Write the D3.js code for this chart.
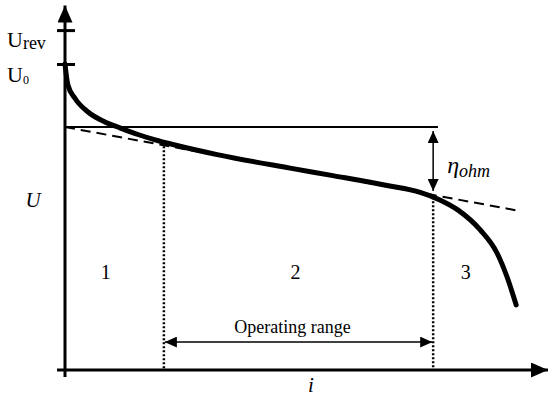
<!DOCTYPE html>
<html>
<head>
<meta charset="utf-8">
<script src="https://cdn.jsdelivr.net/npm/d3@7"></script>
<style>
	body { margin: 0; background: #fff; }
	svg { display: block; font-family: "Liberation Serif", "Times New Roman", serif; }
</style>
</head>
<body>
<svg id="chart"></svg>
<script>
// Polarisation curve (i and U in arbitrary units)
const curveI = [ 0, 0.06, 0.21, 0.48, 0.83, 1.1, 1.52, 1.88, 2.29, 3.17, 4.69, 5.58, 6.71, 7.4, 7.81, 8.19, 8.65, 9.0, 9.21, 9.4 ];
const curveU = [ 1.02, 0.95, 0.905, 0.86, 0.827, 0.81, 0.785, 0.767, 0.75, 0.718, 0.673, 0.648, 0.615, 0.592, 0.567, 0.533, 0.467, 0.39, 0.31, 0.217 ];

// ohmic (linear) extrapolation
const ohmI = [ 0, 9.48 ];
const ohmU = [ 0.81, 0.53 ];

const uLevels = { rev: 1.133, zero: 1.02, ref: 0.81 };
const rangeBounds = [ 2.06, 7.67 ];
const regionLabels = [ '1', '2', '3' ];
const regionI = [ 0.85, 4.8, 8.35 ];

const width = 548;
const height = 399;

const x = d3.scaleLinear().domain( [ 0, 10 ] ).range( [ 65, 545 ] );
const y = d3.scaleLinear().domain( [ 0, 1.21 ] ).range( [ 370, 7 ] );

const svg = d3.select( '#chart' )
	.attr( 'width', width )
	.attr( 'height', height );

const defs = svg.append( 'defs' );
function marker( id, w, h ) {
	defs.append( 'marker' )
		.attr( 'id', id )
		.attr( 'viewBox', `0 0 ${ w } ${ h }` )
		.attr( 'refX', w )
		.attr( 'refY', h / 2 )
		.attr( 'markerWidth', w )
		.attr( 'markerHeight', h )
		.attr( 'markerUnits', 'userSpaceOnUse' )
		.attr( 'orient', 'auto-start-reverse' )
		.append( 'path' )
		.attr( 'd', `M0,0L${ w },${ h / 2 }L0,${ h }Z` )
		.attr( 'fill', '#000' );
}
marker( 'big', 17, 15 );
marker( 'small', 12, 11 );

// axes
svg.append( 'line' )
	.attr( 'x1', x( 0 ) ).attr( 'x2', x( 0 ) )
	.attr( 'y1', y( 0 ) + 7 ).attr( 'y2', y( 1.215 ) )
	.attr( 'stroke', '#000' ).attr( 'stroke-width', 3 )
	.attr( 'marker-end', 'url(#big)' );

svg.append( 'line' )
	.attr( 'x1', x( 0 ) - 8 ).attr( 'x2', 548 )
	.attr( 'y1', y( 0 ) ).attr( 'y2', y( 0 ) )
	.attr( 'stroke', '#000' ).attr( 'stroke-width', 3 )
	.attr( 'marker-end', 'url(#big)' );

// ticks at U0 and Urev
const yAxis = d3.axisLeft( y )
	.tickValues( [ uLevels.rev, uLevels.zero ] )
	.tickSize( 8 )
	.tickFormat( '' );
const yAxisG = svg.append( 'g' )
	.attr( 'transform', `translate(${ x( 0 ) },0)` )
	.call( yAxis );
yAxisG.select( '.domain' ).remove();
yAxisG.selectAll( '.tick line' )
	.attr( 'x2', -8 ).attr( 'x1', 10 )
	.attr( 'stroke', '#000' ).attr( 'stroke-width', 3 );

const urev = svg.append( 'text' )
	.attr( 'x', 7 ).attr( 'y', y( uLevels.rev ) + 17 )
	.attr( 'font-size', 22 );
urev.append( 'tspan' ).text( 'U' );
urev.append( 'tspan' ).attr( 'font-size', 18 ).attr( 'dy', 2 ).text( 'rev' );

const u0 = svg.append( 'text' )
	.attr( 'x', 7 ).attr( 'y', y( uLevels.zero ) + 18 )
	.attr( 'font-size', 22 );
u0.append( 'tspan' ).text( 'U' );
u0.append( 'tspan' ).attr( 'font-size', 12 ).attr( 'dy', 2 ).text( '0' );

// horizontal reference at U(0) of the ohmic line
svg.append( 'line' )
	.attr( 'x1', x( 0 ) ).attr( 'x2', x( 7.77 ) )
	.attr( 'y1', y( uLevels.ref ) ).attr( 'y2', y( uLevels.ref ) )
	.attr( 'stroke', '#000' ).attr( 'stroke-width', 2 );

// dashed ohmic line
svg.append( 'line' )
	.attr( 'x1', x( ohmI[ 0 ] ) ).attr( 'y1', y( ohmU[ 0 ] ) )
	.attr( 'x2', x( ohmI[ 1 ] ) ).attr( 'y2', y( ohmU[ 1 ] ) )
	.attr( 'stroke', '#000' ).attr( 'stroke-width', 2 )
	.attr( 'stroke-dasharray', '10,6' );

// polarisation curve
const points = curveI.map( ( d, k ) => [ d, curveU[ k ] ] );
const line = d3.line()
	.x( ( d ) => x( d[ 0 ] ) )
	.y( ( d ) => y( d[ 1 ] ) )
	.curve( d3.curveMonotoneX );
svg.append( 'path' )
	.datum( points )
	.attr( 'd', line )
	.attr( 'fill', 'none' )
	.attr( 'stroke', '#000' )
	.attr( 'stroke-width', 5 )
	.attr( 'stroke-linecap', 'round' );

// dotted bounds of the operating range
const ohmAt = ( i ) => ohmU[ 0 ] + ( ohmU[ 1 ] - ohmU[ 0 ] ) * i / ohmI[ 1 ];
const curveAt = ( i ) => {
	const k = d3.bisectRight( curveI, i ) - 1;
	const t = ( i - curveI[ k ] ) / ( curveI[ k + 1 ] - curveI[ k ] );
	return curveU[ k ] + t * ( curveU[ k + 1 ] - curveU[ k ] );
};
rangeBounds.forEach( ( b ) => {
	svg.append( 'line' )
		.attr( 'x1', x( b ) ).attr( 'x2', x( b ) )
		.attr( 'y1', y( curveAt( b ) ) ).attr( 'y2', y( 0 ) )
		.attr( 'stroke', '#000' ).attr( 'stroke-width', 2.5 )
		.attr( 'stroke-dasharray', '2,2' );
} );

// eta_ohm arrow
const etaX = x( rangeBounds[ 1 ] );
svg.append( 'line' )
	.attr( 'x1', etaX ).attr( 'x2', etaX )
	.attr( 'y1', y( uLevels.ref ) + 4 ).attr( 'y2', y( ohmAt( rangeBounds[ 1 ] ) ) - 4 )
	.attr( 'stroke', '#000' ).attr( 'stroke-width', 1.5 )
	.attr( 'marker-start', 'url(#small)' )
	.attr( 'marker-end', 'url(#small)' );

const eta = svg.append( 'text' )
	.attr( 'x', etaX + 14 ).attr( 'y', y( uLevels.ref ) + 46 )
	.attr( 'font-size', 24 ).attr( 'font-style', 'italic' );
eta.append( 'tspan' ).text( 'η' );
eta.append( 'tspan' ).attr( 'font-size', 18 ).attr( 'dy', 4 ).text( 'ohm' );

// operating range arrow
const rangeY = y( 0.093 );
svg.append( 'line' )
	.attr( 'x1', x( rangeBounds[ 0 ] ) + 1 ).attr( 'x2', x( rangeBounds[ 1 ] ) - 1 )
	.attr( 'y1', rangeY ).attr( 'y2', rangeY )
	.attr( 'stroke', '#000' ).attr( 'stroke-width', 1.5 )
	.attr( 'marker-start', 'url(#small)' )
	.attr( 'marker-end', 'url(#small)' );

svg.append( 'text' )
	.attr( 'x', ( x( rangeBounds[ 0 ] ) + x( rangeBounds[ 1 ] ) ) / 2 - 6 )
	.attr( 'y', rangeY - 9 )
	.attr( 'text-anchor', 'middle' )
	.attr( 'font-size', 18 )
	.text( 'Operating range' );

// region numbers
svg.selectAll( 'text.region' )
	.data( regionLabels )
	.enter()
	.append( 'text' )
	.attr( 'class', 'region' )
	.attr( 'x', ( d, k ) => x( regionI[ k ] ) )
	.attr( 'y', y( 0.305 ) )
	.attr( 'text-anchor', 'middle' )
	.attr( 'font-size', 20 )
	.text( ( d ) => d );

// axis titles
svg.append( 'text' )
	.attr( 'x', 33 ).attr( 'y', 207 )
	.attr( 'text-anchor', 'middle' )
	.attr( 'font-size', 21 ).attr( 'font-style', 'italic' )
	.text( 'U' );

svg.append( 'text' )
	.attr( 'x', 311 ).attr( 'y', 392 )
	.attr( 'text-anchor', 'middle' )
	.attr( 'font-size', 21 ).attr( 'font-style', 'italic' )
	.text( 'i' );
</script>
</body>
</html>
